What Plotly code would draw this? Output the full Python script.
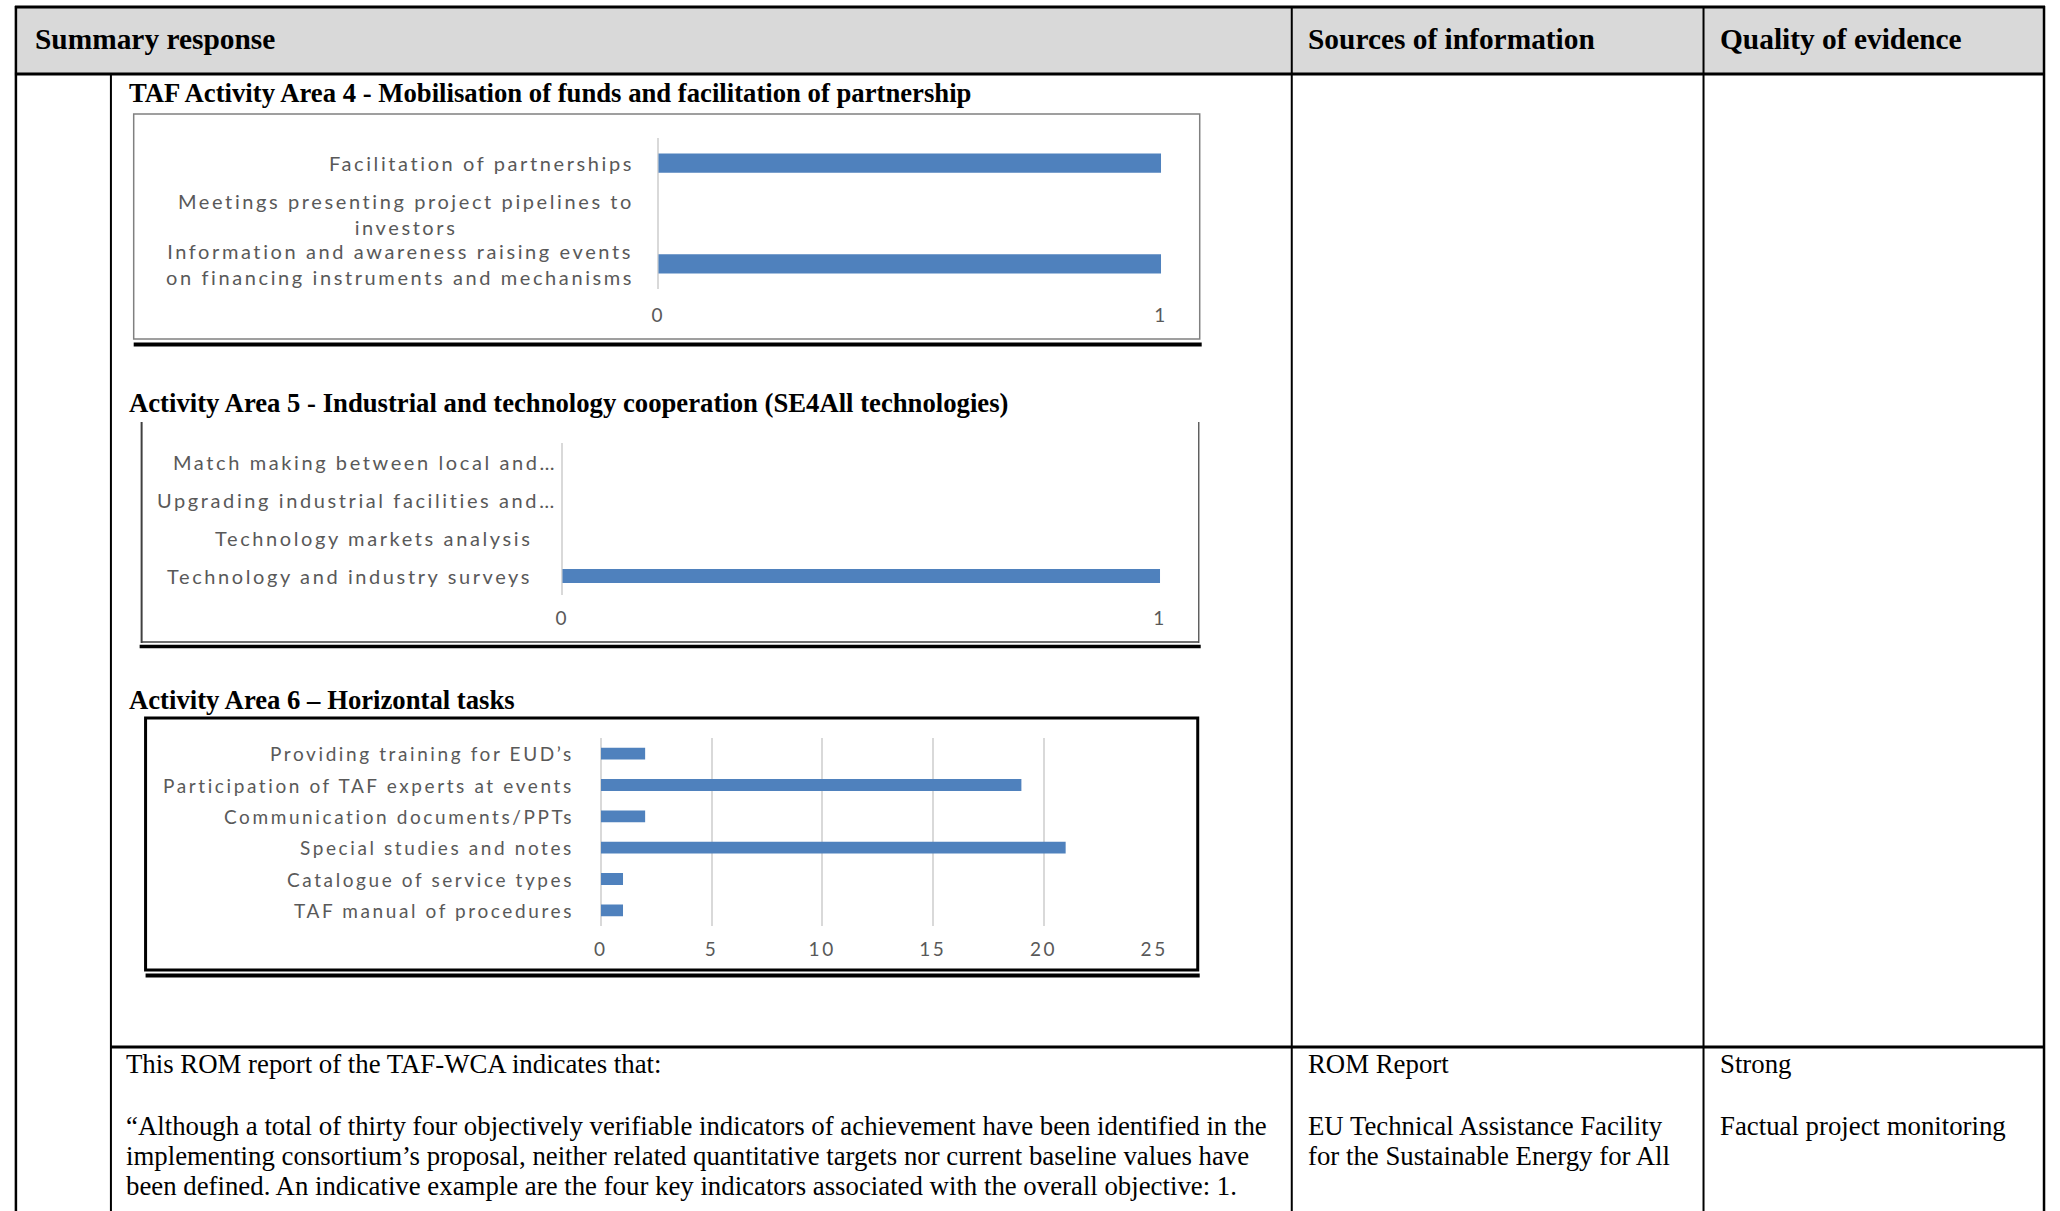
import plotly.graph_objects as go

W, H = 2060, 1211


def px(x):
    return x / W


def py(y):
    return 1 - y / H


# ---- data -------------------------------------------------------------
area4_labels = [
    "Information and awareness raising events<br>on financing instruments and mechanisms",
    "Meetings presenting project pipelines to<br>investors",
    "Facilitation of partnerships",
]
area4_values = [1, 0, 1]

area5_labels = [
    "Technology and industry surveys",
    "Technology markets analysis",
    "Upgrading industrial facilities and…",
    "Match making between local and…",
]
area5_values = [1, 0, 0, 0]

area6_labels = [
    "TAF manual of procedures",
    "Catalogue of service types",
    "Special studies and notes",
    "Communication documents/PPTs",
    "Participation of TAF experts at events",
    "Providing training for EUD’s",
]
area6_values = [1, 1, 21, 2, 19, 2]

area4_ticks = [0, 1]
area5_ticks = [0, 1]
area6_ticks = [0, 5, 10, 15, 20, 25]

header_cols = ["Summary response", "Sources of information", "Quality of evidence"]
chart_titles = [
    "TAF Activity Area 4 - Mobilisation of funds and facilitation of partnership",
    "Activity Area 5 - Industrial and technology cooperation (SE4All technologies)",
    "Activity Area 6 – Horizontal tasks",
]
summary_lines = [
    "This ROM report of the TAF-WCA indicates that:",
    "“Although a total of thirty four objectively verifiable indicators of achievement have been identified in the",
    "implementing consortium’s proposal, neither related quantitative targets nor current baseline values have",
    "been defined. An indicative example are the four key indicators associated with the overall objective: 1.",
]
source_lines = [
    "ROM Report",
    "EU Technical Assistance Facility",
    "for the Sustainable Energy for All",
]
quality_lines = ["Strong", "Factual project monitoring"]

# ---- styling ----------------------------------------------------------
SERIF = "Liberation Serif, Times New Roman, serif"
SANS = "Lato, Calibri, sans-serif"
BAR = "#4f81bd"
GRID = "#d9d9d9"
LABEL = "#595959"
SPACING = 2.6

fig = go.Figure()

charts = [
    dict(labels=area4_labels, values=area4_values, ticks=area4_ticks, xd=(658, 1166), yd=(138, 289),
         lab_x=635, fs=20, tfs=19, bw=0.38, so=13),
    dict(labels=area5_labels, values=area5_values, ticks=area5_ticks, xd=(561, 1165), yd=(443, 595),
         lab_x=532, fs=20, tfs=19, bw=0.37, so=10),
    dict(labels=area6_labels, values=area6_values, ticks=area6_ticks, xd=(600, 1159), yd=(738, 926),
         lab_x=575, fs=19, tfs=19, bw=0.38, so=10),
]

annotations = []


def spaced(text):
    return "<br>".join(
        f'<span style="letter-spacing:{SPACING}px">{part}</span>' for part in text.split("<br>")
    )


for i, c in enumerate(charts, start=1):
    sfx = "" if i == 1 else str(i)
    fig.add_trace(go.Bar(
        x=c["values"], y=c["labels"], orientation="h",
        marker=dict(color=BAR, line=dict(width=0)),
        width=c["bw"], xaxis=f"x{sfx}", yaxis=f"y{sfx}",
        showlegend=False, hoverinfo="skip",
    ))
    fig.update_layout({
        f"xaxis{sfx}": dict(
            domain=[px(c["xd"][0]), px(c["xd"][1])], anchor=f"y{sfx}",
            range=[0, c["ticks"][-1]], tickmode="array", tickvals=c["ticks"],
            ticktext=[spaced(str(t)) for t in c["ticks"]],
            showgrid=True, gridcolor=GRID, gridwidth=2,
            zeroline=True, zerolinecolor=GRID, zerolinewidth=2,
            showline=False, ticks="", ticklabelstandoff=c["so"],
            tickfont=dict(family=SANS, size=c["tfs"], color=LABEL), fixedrange=True,
        ),
        f"yaxis{sfx}": dict(
            domain=[py(c["yd"][1]), py(c["yd"][0])], anchor=f"x{sfx}",
            type="category", categoryorder="array", categoryarray=c["labels"],
            range=[-0.5, len(c["labels"]) - 0.5],
            showgrid=False, zeroline=False, showline=False, showticklabels=False,
            ticks="", fixedrange=True,
        ),
    })
    for lab in c["labels"]:
        shift = 25 if lab.endswith("…") else 0
        annotations.append(dict(
            text=spaced(lab), x=px(c["lab_x"]), xref="paper", xanchor="right", xshift=shift,
            y=lab, yref=f"y{sfx}", yanchor="middle", align="center", showarrow=False,
            font=dict(family=SANS, size=c["fs"], color=LABEL),
        ))


def text_at(text, x, y, size, bold=False):
    annotations.append(dict(
        text=f"<b>{text}</b>" if bold else text,
        x=px(x), y=py(y), xref="paper", yref="paper", xanchor="left", yanchor="middle",
        showarrow=False, font=dict(family=SERIF, size=size, color="#000000"),
    ))


# header row
for txt, x in zip(header_cols, [26, 1312, 1729]):
    text_at(txt, x, 39, 29.4, bold=True)

# chart headings
for txt, y in zip(chart_titles, [93, 403, 700]):
    text_at(txt, 121, y, 26.7, bold=True)

# lower row
for txt, y in zip(summary_lines, [1064, 1126, 1156, 1186]):
    text_at(txt, 118, y, 26.8)
for txt, y in zip(source_lines, [1064, 1126, 1156]):
    text_at(txt, 1312, y, 26.8)
for txt, y in zip(quality_lines, [1064, 1126]):
    text_at(txt, 1729, y, 26.8)

shapes = []


def line(x0, y0, x1, y1, w, color="#000000"):
    shapes.append(dict(type="line", xref="paper", yref="paper",
                       x0=px(x0), y0=py(y0), x1=px(x1), y1=py(y1),
                       line=dict(color=color, width=w)))


def rect(x0, y0, x1, y1, w, color="#000000", fill=None):
    shapes.append(dict(type="rect", xref="paper", yref="paper",
                       x0=px(x0), y0=py(y0), x1=px(x1), y1=py(y1),
                       line=dict(color=color, width=w), fillcolor=fill,
                       layer="below" if fill else "above"))


# table frame
rect(10, 7, 2057, 74, 0, color="rgba(0,0,0,0)", fill="#d9d9d9")
line(8, 7, 2059, 7, 3)
line(8, 74, 2059, 74, 3)
line(9, 6, 9, 1211, 2.5)
line(2058, 6, 2058, 1211, 2.5)
line(1298, 7, 1298, 1211, 2)
line(1714, 7, 1714, 1211, 2)
line(105, 74, 105, 1211, 2)
line(105, 1047, 2058, 1047, 3)

# chart frames
rect(128, 114, 1205, 339, 1.5, color="#808080")
line(128, 344.5, 1207, 344.5, 4)

line(136, 422, 136, 643, 2, color="#404040")
line(1204, 422, 1204, 643, 1.5, color="#606060")
line(136, 642, 1204, 642, 1.5, color="#404040")
line(134, 646.5, 1206, 646.5, 3.5)

rect(140, 718, 1203, 970, 3)
line(140, 975.5, 1205, 975.5, 4)

fig.update_layout(
    width=W, height=H, margin=dict(l=0, r=0, t=0, b=0),
    paper_bgcolor="white", plot_bgcolor="white",
    annotations=annotations, shapes=shapes, hovermode=False,
)

fig.write_html("out.html", config={"displayModeBar": False})
